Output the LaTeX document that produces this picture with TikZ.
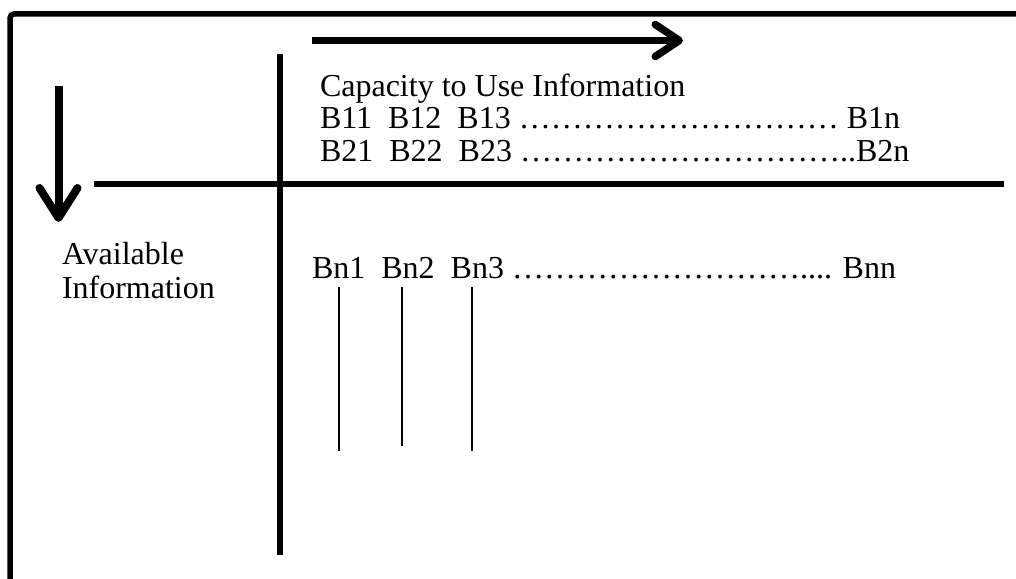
\documentclass[tikz,border=0pt]{standalone}
\usepackage{fontspec}
\setmainfont{Liberation Serif}
\usetikzlibrary{arrows.meta}

% a run of #1 ellipsis characters
\def\ellrun#1{\ifnum#1>0 …\expandafter\ellrun\expandafter{\the\numexpr#1-1\relax}\fi}
% a double word space
\newcommand\dsp{\ \ }

\begin{document}
\begin{tikzpicture}[x=1pt,y=-1pt,
  txt/.style={anchor=base west,inner sep=0pt,outer sep=0pt,
    font=\fontsize{32}{34}\selectfont},
  heavy/.style={line width=5.5pt},
  thin/.style={line width=2.2pt},
  bigarrow/.style={line width=7.5pt,
    -{Straight Barb[length=24pt,width=32pt,round]}},
  downarrow/.style={line width=8pt,
    -{Straight Barb[length=30pt,width=38pt,round]}}]
\useasboundingbox (0,0) rectangle (1016,578);

% outer frame, open on the right and at the bottom
\coordinate (fbl) at (10,590);
\coordinate (ftl) at (10,14);
\coordinate (ftr) at (1030,14);
\draw[heavy,rounded corners=4pt] (fbl) -- (ftl) -- (ftr);

% the two axes of the table
\coordinate (vtop) at (280,54);
\coordinate (vbot) at (280,555);
\coordinate (hl) at (94,184);
\coordinate (hr) at (1004,184);
\draw[heavy] (vtop) -- (vbot);
\draw[heavy] (hl) -- (hr);

% direction arrows
\coordinate (ra) at (312,40.5);
\coordinate (rb) at (683,40.5);
\draw[bigarrow] (ra) -- (rb);
\coordinate (da) at (58.5,86);
\coordinate (db) at (58.5,222);
\draw[downarrow] (da) -- (db);

% labels and entries
\node[txt] (cap) at (320,96) {Capacity to Use Information};
\node[txt] (row1) at (320,128) {B11\dsp B12\dsp B13 \ellrun{10} B1n};
\node[txt] (row2) at (320,161) {B21\dsp B22\dsp B23 \ellrun{10}..B2n};
\node[txt] (avail) at (62,264) {Available};
\node[txt] (info) at (62,298) {Information};
\node[txt] (rown) at (312,278) {Bn1\dsp Bn2\dsp Bn3 \ellrun{9}.... Bnn};

% columns running down from the last row
\coordinate (c1t) at (339,287); \coordinate (c1b) at (339,451);
\coordinate (c2t) at (402,287); \coordinate (c2b) at (402,446);
\coordinate (c3t) at (472,287); \coordinate (c3b) at (472,451);
\draw[thin] (c1t) -- (c1b);
\draw[thin] (c2t) -- (c2b);
\draw[thin] (c3t) -- (c3b);
\end{tikzpicture}
\end{document}
